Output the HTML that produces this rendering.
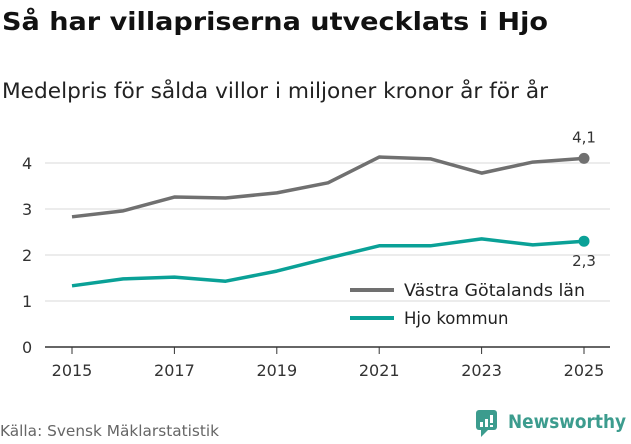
<!DOCTYPE html>
<html><head><meta charset="utf-8"><style>
body{margin:0;background:#fff;font-family:"Liberation Sans","DejaVu Sans",sans-serif;}
svg text{font-family:"DejaVu Sans","Liberation Sans",sans-serif;}
</style></head><body>
<svg width="631" height="439" viewBox="0 0 631 439" xmlns="http://www.w3.org/2000/svg">
<text x="2" y="30" font-size="25" font-weight="bold" fill="#111" textLength="546" lengthAdjust="spacingAndGlyphs">Så har villapriserna utvecklats i Hjo</text>
<text x="2" y="98" font-size="21" fill="#222" textLength="546" lengthAdjust="spacingAndGlyphs">Medelpris för sålda villor i miljoner kronor år för år</text>
<g id="grid"></g><g id="xaxis"></g><g id="lines"></g>
<g>
<line x1="350" y1="290" x2="394" y2="290" stroke="#707070" stroke-width="4"/>
<text x="404" y="296" font-size="16.5" fill="#222" textLength="181" lengthAdjust="spacingAndGlyphs">Västra Götalands län</text>
<line x1="350" y1="318" x2="394" y2="318" stroke="#0aa197" stroke-width="4"/>
<text x="404" y="324" font-size="16.5" fill="#222">Hjo kommun</text>
</g>
<text x="0" y="436" font-size="15" fill="#666" textLength="219" lengthAdjust="spacingAndGlyphs">Källa: Svensk Mäklarstatistik</text>
<g>
<rect x="476" y="410" width="21" height="20" rx="3" fill="#3c9c8e"/>
<path d="M481 430 L481 437 L488 430 Z" fill="#3c9c8e"/>
<rect x="480" y="422" width="3" height="5" fill="#fff"/><rect x="485" y="419" width="3" height="8" fill="#fff"/><rect x="490" y="415" width="3" height="8" fill="#fff"/><rect x="490" y="425" width="3" height="2" fill="#fff"/>
<text x="508" y="428" font-size="19" font-weight="bold" fill="#3c9c8e" textLength="118" lengthAdjust="spacingAndGlyphs">Newsworthy</text>
</g>
</svg>
<script>
const years=[2015,2016,2017,2018,2019,2020,2021,2022,2023,2024,2025];
const vastra=[2.83,2.96,3.26,3.24,3.35,3.57,4.13,4.09,3.78,4.02,4.1];
const hjo=[1.33,1.48,1.52,1.43,1.65,1.93,2.2,2.2,2.35,2.22,2.3];
const yTicks=[0,1,2,3,4];
const xTicks=[2015,2017,2019,2021,2023,2025];
const NS="http://www.w3.org/2000/svg";
const X=y=>72+(y-2015)*51.2, Y=v=>347-v*46;
function mk(t,a,p){const e=document.createElementNS(NS,t);for(const k in a)e.setAttribute(k,a[k]);p.appendChild(e);return e;}
const g=document.getElementById('grid'),xa=document.getElementById('xaxis'),ln=document.getElementById('lines');
yTicks.forEach(v=>{
 const l=mk('line',{x1:45,x2:610,y1:Y(v),y2:Y(v),stroke:v===0?'#333':'#d8d8d8','stroke-width':v===0?1.5:1},g);
 
 
 const t=mk('text',{x:22,y:Y(v)+6,'font-size':16,fill:'#333'},g);t.textContent=v;
 
 
});
xTicks.forEach(yr=>{
 const l=mk('line',{x1:X(yr),x2:X(yr),y1:347,y2:354,stroke:'#333'},xa);
 
 
 const t=mk('text',{x:X(yr),y:376,'font-size':16,fill:'#333','text-anchor':'middle'},xa);t.textContent=yr;
 
 
});
function series(d,c,name,lblDy){
 const p=mk('polyline',{points:d.map((v,i)=>X(years[i])+','+Y(v)).join(' '),fill:'none',stroke:c,'stroke-width':3.5,'stroke-linejoin':'round'},ln);
 
 
 const n=d.length-1;
 const dot=mk('circle',{cx:X(years[n]),cy:Y(d[n]),r:5.5,fill:c},ln);
 
 
 const t=mk('text',{x:X(years[n]),y:Y(d[n])+lblDy,'font-size':15,fill:'#333','text-anchor':'middle'},ln);
 t.textContent=d[n].toFixed(1).replace('.',',');
 
 
}
series(vastra,'#707070','vastra-gotaland',-16);
series(hjo,'#0aa197','hjo',25);
</script>
</body></html>
